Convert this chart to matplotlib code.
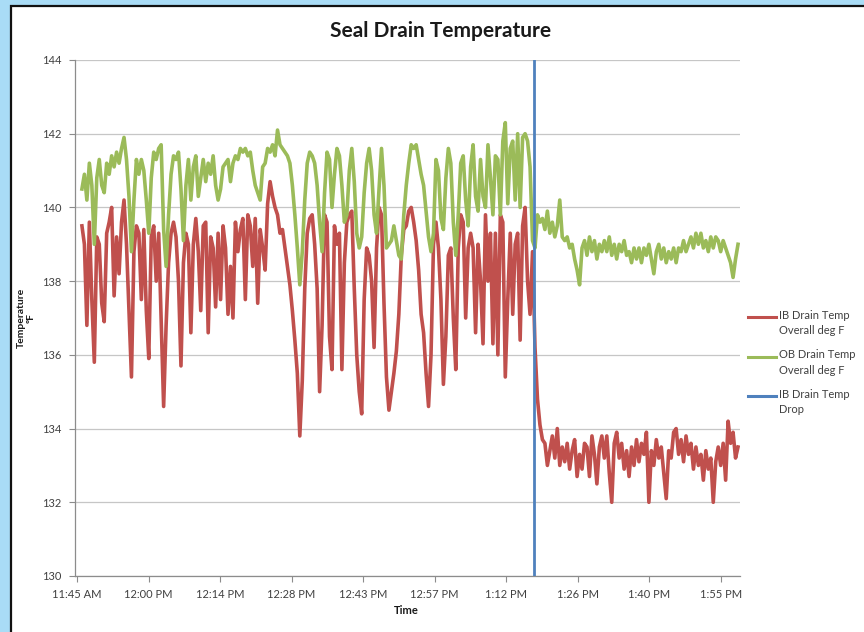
import numpy as np
import matplotlib
matplotlib.use("Agg")
import matplotlib.pyplot as plt
from matplotlib.patches import Rectangle
from matplotlib.lines import Line2D

# ---------------- data ----------------
title = "Seal Drain Temperature"
x_label = "Time"
y_label = "Temperature\nºF"
series_names = ["IB Drain Temp\nOverall deg F",
                "OB Drain Temp\nOverall deg F",
                "IB Drain Temp\nDrop"]
tick_labels = ["11:45 AM", "12:00 PM", "12:14 PM", "12:28 PM", "12:43 PM",
               "12:57 PM", "1:12 PM", "1:26 PM", "1:40 PM", "1:55 PM"]
tick_step_min = 130 / 9          # minutes between category labels
y_ticks = [130, 132, 134, 136, 138, 140, 142, 144]

sample_start_min = 1.0           # minutes after 11:45 AM
sample_step_min = 0.5

ib_temp = [
    139.5, 139.0, 136.8, 139.6, 137.5, 135.8, 139.2, 139.0, 137.4, 136.9,
    139.3, 139.6, 140.0, 137.6, 139.2, 138.2, 139.6, 140.2, 139.0, 137.2,
    135.4, 138.8, 139.5, 139.3, 137.5, 139.4, 137.2, 135.9, 139.2, 139.5,
    138.0, 139.3, 137.0, 134.6, 136.8, 138.5, 139.3, 139.6, 139.2, 138.0,
    135.7, 138.5, 139.3, 139.0, 136.6, 139.0, 139.7, 138.8, 137.2, 139.5,
    139.6, 136.6, 139.2, 138.9, 137.3, 139.3, 137.5, 139.5, 138.9, 137.1,
    138.4, 137.0, 139.6, 138.8, 139.4, 139.7, 137.5, 139.8, 139.5, 138.4,
    139.7, 137.4, 139.4, 138.9, 138.3, 140.1, 140.7, 140.3, 140.0, 139.8,
    139.3, 139.4, 138.9, 138.4, 137.9, 137.2, 136.4, 135.5, 133.8, 135.3,
    137.8, 139.3, 139.7, 139.8, 139.0, 137.8, 135.0, 136.8, 139.8, 139.6,
    136.5, 135.6, 139.5, 139.0, 139.3, 135.6, 138.5, 139.6, 139.8, 139.9,
    137.8, 136.0, 135.0, 134.4, 137.5, 138.9, 138.7, 138.0, 136.2, 138.9,
    140.0, 139.8, 137.4, 135.4, 134.5, 135.0, 135.5, 136.1, 137.1, 138.7,
    139.4, 139.5, 139.9, 140.0, 139.6, 139.1, 138.3, 137.1, 136.6, 135.5,
    134.6, 136.0, 139.0, 139.6, 138.9, 137.5, 135.2, 136.5, 138.7, 138.9,
    137.0, 135.6, 138.9, 139.8, 139.6, 137.0, 138.9, 139.3, 138.9, 136.6,
    139.0, 138.0, 136.3, 139.8, 138.0, 139.3, 136.3, 139.3, 136.0, 139.8,
    139.6, 135.4, 137.5, 139.3, 137.1, 139.0, 139.3, 136.4, 139.5, 140.0,
    138.0, 137.1, 138.8, 136.2, 134.8, 134.1, 133.7, 133.6, 133.0, 133.4,
    133.8, 133.2, 134.0, 133.0, 133.5, 133.1, 133.6, 132.9, 133.4, 133.7,
    132.7, 133.3, 132.9, 133.6, 133.5, 132.7, 133.8, 133.3, 132.5, 133.5,
    133.8, 133.2, 133.8, 132.8, 132.0, 133.6, 133.9, 133.2, 133.6, 132.9,
    133.4, 132.7, 133.5, 133.0, 133.7, 133.1, 133.6, 133.3, 133.9, 132.0,
    133.4, 133.0, 133.7, 133.2, 133.5, 132.8, 132.1, 133.4, 133.2, 133.9,
    134.0, 133.3, 133.7, 133.1, 133.8, 133.3, 133.6, 132.9, 133.5, 133.0,
    133.3, 132.6, 133.4, 132.9, 133.2, 132.0, 133.1, 133.5, 133.0, 133.6,
    132.6, 134.2, 133.6, 133.9, 133.2, 133.5,
]

ob_temp = [
    140.5, 140.9, 140.2, 141.2, 140.6, 139.0, 140.8, 141.3, 140.6, 140.4,
    141.2, 140.9, 141.4, 141.1, 141.5, 141.2, 141.6, 141.9, 141.3, 140.3,
    138.8, 140.2, 141.3, 140.9, 141.3, 141.0, 140.2, 139.3, 140.8, 141.5,
    141.3, 141.6, 141.7, 139.4, 138.4, 139.8, 140.9, 141.4, 141.3, 141.5,
    140.5, 139.1, 140.6, 141.3, 140.2, 141.1, 141.4, 140.3, 140.8, 141.3,
    140.7, 141.2, 140.9, 141.4, 140.6, 140.2, 140.5, 141.1, 141.2, 141.3,
    140.7, 141.2, 141.4, 141.3, 141.6, 141.5, 141.6, 141.4, 141.5, 141.0,
    140.6, 140.4, 140.2, 141.1, 141.2, 141.6, 141.5, 141.7, 141.4, 142.1,
    141.7, 141.6, 141.5, 141.4, 141.2, 140.6, 139.8, 138.9, 137.9, 138.8,
    140.2, 141.2, 141.5, 141.4, 141.2, 140.6, 139.6, 138.8, 140.4, 141.5,
    141.3, 140.0, 140.9, 141.6, 141.4, 140.6, 139.6, 139.8, 141.0, 141.6,
    140.7, 139.3, 138.9, 139.2, 140.4, 141.2, 141.6, 141.0, 139.8, 139.3,
    140.5, 141.6, 140.6, 138.9, 139.0, 139.1, 139.5, 139.1, 138.7, 138.6,
    139.8, 140.6, 141.2, 141.7, 141.6, 141.7, 141.3, 140.9, 140.6, 139.9,
    139.2, 138.8, 139.3, 141.3, 141.0, 139.7, 139.4, 140.8, 141.6, 141.2,
    139.6, 138.7, 139.8, 141.2, 141.4, 140.2, 139.5, 141.1, 141.7, 140.3,
    139.9, 141.3, 140.3, 140.0, 141.7, 140.8, 139.8, 141.4, 141.3, 139.8,
    141.8, 142.3, 140.1, 141.6, 141.8, 140.2, 142.0, 140.0, 141.9, 142.0,
    141.8, 141.1, 139.1, 138.9, 139.8, 139.6, 139.7, 139.4, 139.9, 139.3,
    139.6, 139.2, 139.5, 140.2, 139.2, 139.1, 139.2, 138.9, 139.0, 138.6,
    138.3, 137.9, 138.9, 139.1, 138.7, 139.2, 138.8, 139.1, 138.6, 139.0,
    138.8, 139.1, 138.8, 139.2, 138.7, 139.0, 138.6, 139.0, 138.8, 139.1,
    138.7, 138.8, 138.5, 138.9, 138.6, 138.9, 138.5, 138.9, 138.7, 139.0,
    138.6, 138.2, 138.8, 139.0, 138.6, 138.9, 138.5, 138.8, 138.6, 138.9,
    138.5, 138.9, 138.8, 139.1, 138.8, 139.0, 139.2, 138.9, 139.3, 139.0,
    139.3, 138.9, 139.1, 138.8, 139.2, 138.9, 139.2, 139.1, 138.8, 139.1,
    138.9, 138.7, 138.5, 138.1, 138.6, 139.0,
]

drop_time_min = 92.3            # minutes after 11:45 AM
drop_span = [130, 144]

# ---------------- style ----------------
RED = "#C0504D"
GREEN = "#9BBB59"
BLUE = "#4F81BD"
FONT = ["Lato", "DejaVu Sans"]
plt.rcParams["font.family"] = FONT

W, H = 864, 632
fig = plt.figure(figsize=(W / 100, H / 100), dpi=100)
fig.patch.set_facecolor("#A9DCF6")

def fx(px):
    return px / W

def fy(py):
    return 1 - py / H

# white slide panel with dark border (left and top)
panel = Rectangle((fx(11), -0.05), 1.1, fy(6) + 0.05,
                  transform=fig.transFigure, facecolor="white",
                  edgecolor="#111111", linewidth=1.6, zorder=0)
fig.add_artist(panel)

ax = fig.add_axes([fx(75), fy(576), fx(740) - fx(75), fy(60) - fy(576)])
ax.set_facecolor("white")

t_ib = sample_start_min + sample_step_min * np.arange(len(ib_temp))
t_ob = sample_start_min + sample_step_min * np.arange(len(ob_temp))

ax.plot(t_ib, ib_temp, color=RED, lw=2.6, solid_joinstyle="round", zorder=3)
ax.plot(t_ob, ob_temp, color=GREEN, lw=2.6, solid_joinstyle="round", zorder=3)
ax.plot([drop_time_min, drop_time_min], drop_span, color=BLUE, lw=2.0, zorder=4)

ax.set_ylim(130, 144)
ax.set_yticks(y_ticks)
ax.set_yticklabels([str(v) for v in y_ticks])
ticks = [i * tick_step_min for i in range(len(tick_labels))]
ax.set_xticks(ticks)
ax.set_xticklabels(tick_labels)
ax.set_xlim(-0.4, 133.9)

ax.grid(axis="y", color="#C6C6C6", lw=0.9)
ax.set_axisbelow(True)
for s in ["top", "right"]:
    ax.spines[s].set_visible(False)
for s in ["left", "bottom"]:
    ax.spines[s].set_color("#8C8C8C")
    ax.spines[s].set_linewidth(0.9)
ax.tick_params(axis="both", colors="#8C8C8C", labelcolor="#404040",
               labelsize=8, length=4, width=0.8, direction="out")
ax.tick_params(axis="x", pad=5)
ax.tick_params(axis="y", pad=6)

fig.text(fx(441), fy(31), title, ha="center", va="center",
         fontsize=15, fontweight="bold", color="#1a1a1a")
fig.text(fx(406), fy(610), x_label, ha="center", va="center",
         fontsize=8, fontweight="bold", color="#1a1a1a")
fig.text(fx(26), fy(318), y_label, ha="center", va="center", rotation=90,
         fontsize=7.5, fontweight="bold", color="#1a1a1a", linespacing=1.1)

# legend
colors = [RED, GREEN, BLUE]
for i, (name, c) in enumerate(zip(series_names, colors)):
    yy = 317 + i * 39.5
    fig.add_artist(Line2D([fx(748), fx(776)], [fy(yy), fy(yy)],
                          transform=fig.transFigure, color=c, lw=2.2))
    fig.text(fx(779), fy(yy - 7), name, ha="left", va="top",
             fontsize=8, color="#404040", linespacing=1.45)

fig.savefig("out.png", dpi=100, facecolor=fig.get_facecolor())
